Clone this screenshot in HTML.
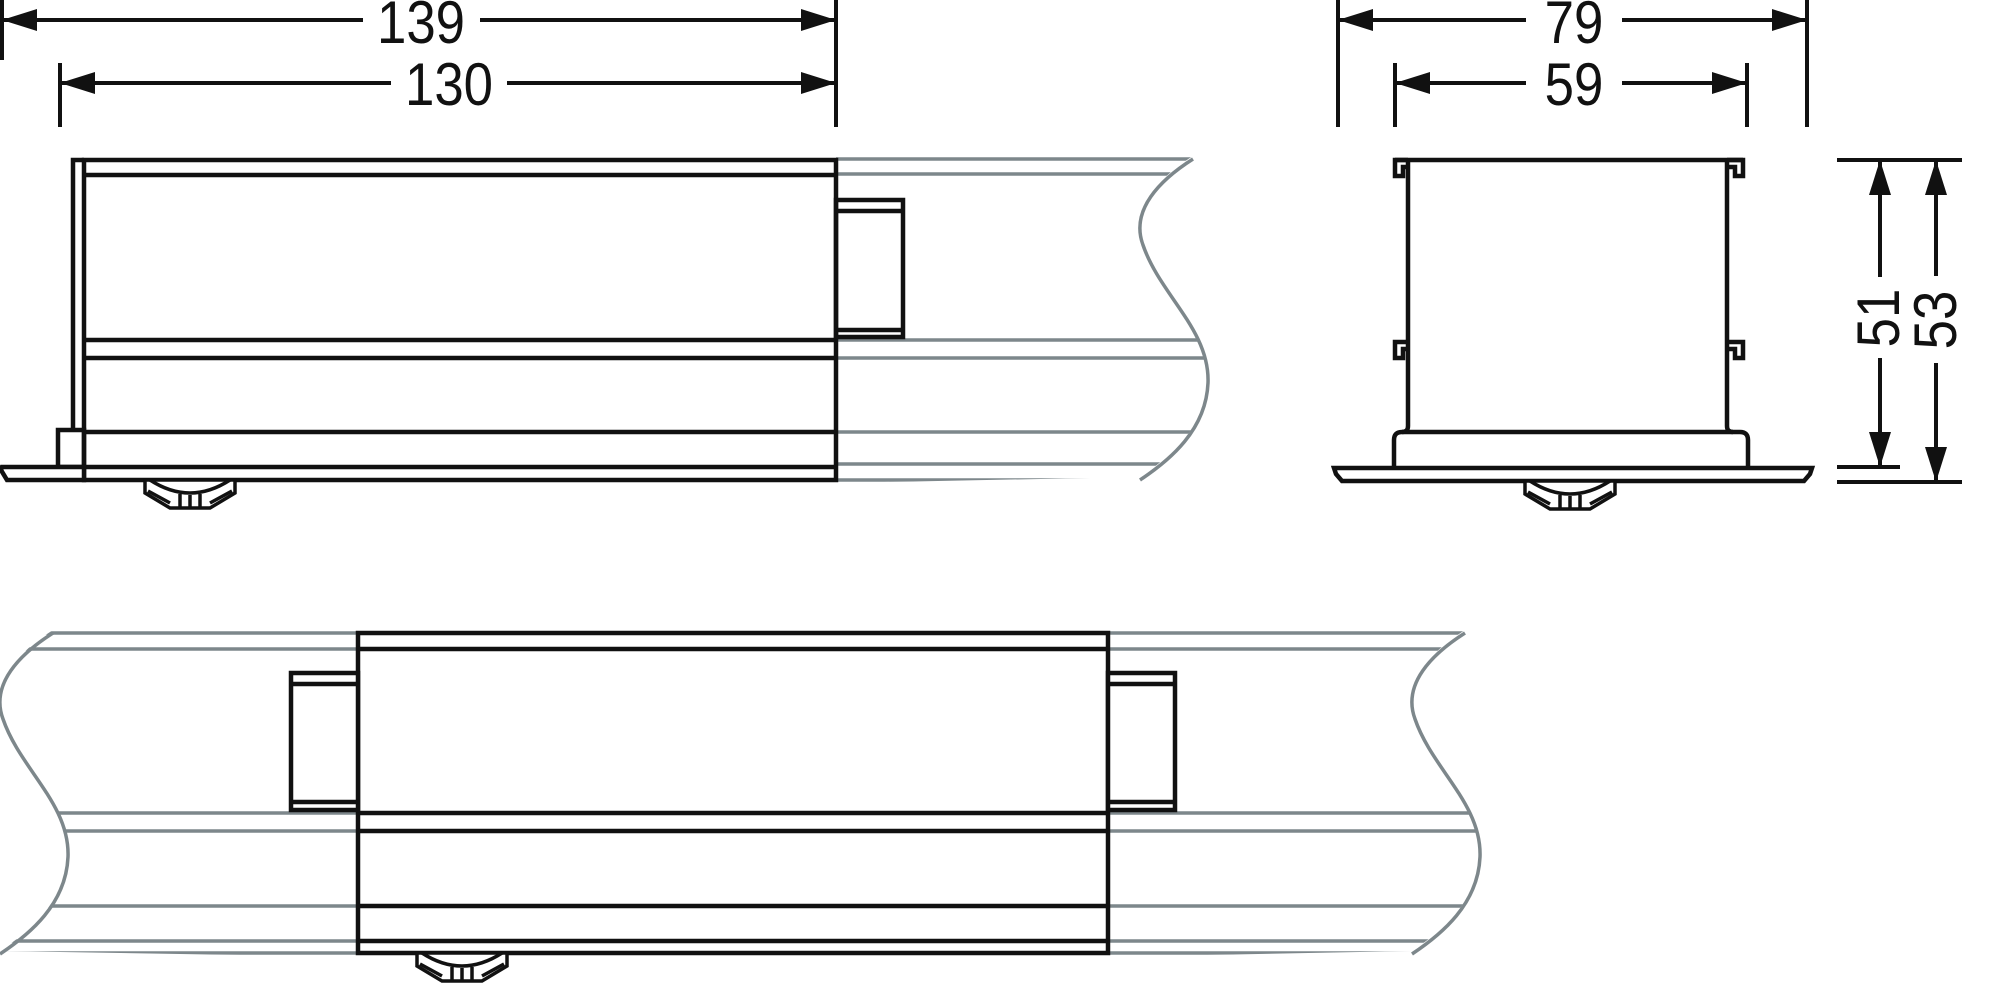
<!DOCTYPE html>
<html><head><meta charset="utf-8"><style>
html,body{margin:0;padding:0;background:#fff;}
svg{display:block;}
text{font-family:"Liberation Sans",Arial,sans-serif;font-size:60px;fill:#111;}
</style></head><body>
<svg width="2000" height="1006" viewBox="0 0 2000 1006" xmlns="http://www.w3.org/2000/svg">
<defs>
<clipPath id="c1"><path d="M836,156 L1193,156 c-33,21 -63,51 -50,86 c17,50 67,85 65,138 c-2,47 -38,77 -68,97 L836,483 Z"/></clipPath>
<clipPath id="c2"><path d="M358,630 L53,630 c-33,21 -63,51 -50,86 c17,50 67,85 65,138 c-2,47 -38,77 -68,97 L358,957 Z"/></clipPath>
<clipPath id="c3"><path d="M1108,630 L1465,630 c-33,21 -63,51 -50,86 c17,50 67,85 65,138 c-2,47 -38,77 -68,97 L1108,957 Z"/></clipPath>
</defs>

<g stroke="#111" stroke-width="4" fill="none">
  <line x1="2" y1="0" x2="2" y2="60"/>
  <line x1="836" y1="0" x2="836" y2="127"/>
  <line x1="2" y1="20" x2="363" y2="20"/>
  <line x1="480" y1="20" x2="836" y2="20"/>
  <line x1="60" y1="63" x2="60" y2="127"/>
  <line x1="60" y1="83" x2="391" y2="83"/>
  <line x1="507" y1="83" x2="836" y2="83"/>
  <line x1="1338" y1="0" x2="1338" y2="127"/>
  <line x1="1807" y1="0" x2="1807" y2="127"/>
  <line x1="1338" y1="20" x2="1526" y2="20"/>
  <line x1="1622" y1="20" x2="1807" y2="20"/>
  <line x1="1395" y1="63" x2="1395" y2="127"/>
  <line x1="1747" y1="63" x2="1747" y2="127"/>
  <line x1="1395" y1="83" x2="1526" y2="83"/>
  <line x1="1622" y1="83" x2="1747" y2="83"/>
  <line x1="1837" y1="160" x2="1962" y2="160"/>
  <line x1="1837" y1="467" x2="1900" y2="467"/>
  <line x1="1837" y1="482" x2="1962" y2="482"/>
  <line x1="1880" y1="160" x2="1880" y2="277"/>
  <line x1="1880" y1="358" x2="1880" y2="467"/>
  <line x1="1936" y1="160" x2="1936" y2="276"/>
  <line x1="1936" y1="363" x2="1936" y2="482"/>
</g>
<g fill="#111">
  <polygon points="2,20 37,9 37,31"/>
  <polygon points="836,20 801,9 801,31"/>
  <polygon points="60,83 95,72 95,94"/>
  <polygon points="836,83 801,72 801,94"/>
  <polygon points="1338,20 1373,9 1373,31"/>
  <polygon points="1807,20 1772,9 1772,31"/>
  <polygon points="1395,83 1430,72 1430,94"/>
  <polygon points="1747,83 1712,72 1712,94"/>
  <polygon points="1880,160 1869,195 1891,195"/>
  <polygon points="1880,467 1869,432 1891,432"/>
  <polygon points="1936,160 1925,195 1947,195"/>
  <polygon points="1936,482 1925,447 1947,447"/>
</g>
<g transform="translate(421,43) scale(0.88,1)"><text x="0" y="0" text-anchor="middle">139</text></g>
<g transform="translate(449,105) scale(0.88,1)"><text x="0" y="0" text-anchor="middle">130</text></g>
<g transform="translate(1574,43) scale(0.88,1)"><text x="0" y="0" text-anchor="middle">79</text></g>
<g transform="translate(1574,105) scale(0.88,1)"><text x="0" y="0" text-anchor="middle">59</text></g>
<g transform="translate(1899,318) rotate(-90) scale(0.88,1)"><text x="0" y="0" text-anchor="middle">51</text></g>
<g transform="translate(1956,320) rotate(-90) scale(0.88,1)"><text x="0" y="0" text-anchor="middle">53</text></g>

<!-- TOP-LEFT VIEW -->
<g clip-path="url(#c1)" stroke="#7d878b" stroke-width="3.5">
  <line x1="836" y1="159" x2="1300" y2="159"/>
  <line x1="836" y1="174" x2="1300" y2="174"/>
  <line x1="836" y1="340" x2="1300" y2="340"/>
  <line x1="836" y1="358" x2="1300" y2="358"/>
  <line x1="836" y1="432" x2="1300" y2="432"/>
  <line x1="836" y1="464" x2="1300" y2="464"/>
  <line x1="836" y1="480" x2="1300" y2="480"/>
</g>
<path d="M1193,159 c-33,21 -63,51 -50,86 c17,50 67,85 65,138 c-2,47 -38,77 -68,97" stroke="#7d878b" stroke-width="3.5" fill="none"/>
<g stroke="#111" stroke-width="4.5" fill="none">
  <rect x="84" y="160" width="752" height="320" fill="#fff"/>
  <line x1="84" y1="175" x2="836" y2="175"/>
  <line x1="84" y1="340" x2="836" y2="340"/>
  <line x1="84" y1="358" x2="836" y2="358"/>
  <line x1="84" y1="432" x2="836" y2="432"/>
  <line x1="84" y1="467" x2="836" y2="467"/>
  <path d="M84,160 L73,160 L73,430"/>
  <rect x="58" y="430" width="26" height="37"/>
  <path d="M2,467 L84,467 L84,480 L7,480 L1,470 Z" fill="#fff"/>
  <rect x="836" y="200" width="67" height="137"/>
  <line x1="836" y1="211" x2="903" y2="211"/>
  <line x1="836" y1="330" x2="903" y2="330"/>
</g>
<g stroke="#111" stroke-width="3.5" fill="#fff">
  <path d="M145,480 L235,480 L235,493 L210,508 L170,508 L145,493 Z"/>
  <path d="M150,480 Q190,506 230,480" fill="none"/>
  <path d="M148,491 L170,503 M232,491 L210,503" fill="none"/>
  <path d="M180,494 L180,508 M190,495 L190,508 M200,494 L200,508" fill="none"/>
</g>

<!-- TOP-RIGHT VIEW -->
<g stroke="#111" stroke-width="4.5" fill="none">
  <line x1="1395" y1="160" x2="1743" y2="160"/>
  <path d="M1408,160 L1408,426 Q1408,432 1402,432"/>
  <path d="M1727,160 L1727,426 Q1727,432 1733,432"/>
  <path d="M1408,160 L1395,160 L1395,176 L1403,176 L1403,167 L1408,167"/>
  <path d="M1727,160 L1743,160 L1743,176 L1735,176 L1735,167 L1727,167"/>
  <path d="M1408,342 L1395,342 L1395,358 L1403,358 L1403,349 L1408,349"/>
  <path d="M1727,342 L1743,342 L1743,358 L1735,358 L1735,349 L1727,349"/>
  <path d="M1394,468 L1394,440 Q1394,432 1402,432 L1740,432 Q1748,432 1748,440 L1748,468"/>
  <path d="M1334,468 L1812,468 L1810,474 L1804,481 L1342,481 L1336,474 Z" fill="#fff"/>
</g>
<g stroke="#111" stroke-width="3.5" fill="#fff">
  <path d="M1525,481 L1615,481 L1615,494 L1590,509 L1550,509 L1525,494 Z"/>
  <path d="M1530,481 Q1570,507 1610,481" fill="none"/>
  <path d="M1528,492 L1550,504 M1612,492 L1590,504" fill="none"/>
  <path d="M1560,495 L1560,509 M1570,496 L1570,509 M1580,495 L1580,509" fill="none"/>
</g>

<!-- BOTTOM VIEW -->
<g stroke="#7d878b" stroke-width="3.5">
  <g clip-path="url(#c2)">
    <line x1="0" y1="633" x2="358" y2="633"/>
    <line x1="0" y1="649" x2="358" y2="649"/>
    <line x1="0" y1="813" x2="358" y2="813"/>
    <line x1="0" y1="831" x2="358" y2="831"/>
    <line x1="0" y1="906" x2="358" y2="906"/>
    <line x1="0" y1="941" x2="358" y2="941"/>
    <line x1="0" y1="953" x2="358" y2="953"/>
  </g>
  <g clip-path="url(#c3)">
    <line x1="1108" y1="633" x2="1560" y2="633"/>
    <line x1="1108" y1="649" x2="1560" y2="649"/>
    <line x1="1108" y1="813" x2="1560" y2="813"/>
    <line x1="1108" y1="831" x2="1560" y2="831"/>
    <line x1="1108" y1="906" x2="1560" y2="906"/>
    <line x1="1108" y1="941" x2="1560" y2="941"/>
    <line x1="1108" y1="953" x2="1560" y2="953"/>
  </g>
</g>
<path d="M53,633 c-33,21 -63,51 -50,86 c17,50 67,85 65,138 c-2,47 -38,77 -68,97" stroke="#7d878b" stroke-width="3.5" fill="none"/>
<path d="M1465,633 c-33,21 -63,51 -50,86 c17,50 67,85 65,138 c-2,47 -38,77 -68,97" stroke="#7d878b" stroke-width="3.5" fill="none"/>
<g stroke="#111" stroke-width="4.5" fill="none">
  <rect x="358" y="633" width="750" height="320" fill="#fff"/>
  <line x1="358" y1="649" x2="1108" y2="649"/>
  <line x1="358" y1="813" x2="1108" y2="813"/>
  <line x1="358" y1="831" x2="1108" y2="831"/>
  <line x1="358" y1="906" x2="1108" y2="906"/>
  <line x1="358" y1="941" x2="1108" y2="941"/>
  <rect x="291" y="673" width="67" height="137" fill="#fff"/>
  <line x1="291" y1="684" x2="358" y2="684"/>
  <line x1="291" y1="802" x2="358" y2="802"/>
  <rect x="1108" y="673" width="67" height="137" fill="#fff"/>
  <line x1="1108" y1="684" x2="1175" y2="684"/>
  <line x1="1108" y1="802" x2="1175" y2="802"/>
</g>
<g stroke="#111" stroke-width="3.5" fill="#fff">
  <path d="M417,953 L507,953 L507,966 L482,981 L442,981 L417,966 Z"/>
  <path d="M422,953 Q462,979 502,953" fill="none"/>
  <path d="M420,964 L442,976 M504,964 L482,976" fill="none"/>
  <path d="M452,967 L452,981 M462,968 L462,981 M472,967 L472,981" fill="none"/>
</g>
</svg>
</body></html>
